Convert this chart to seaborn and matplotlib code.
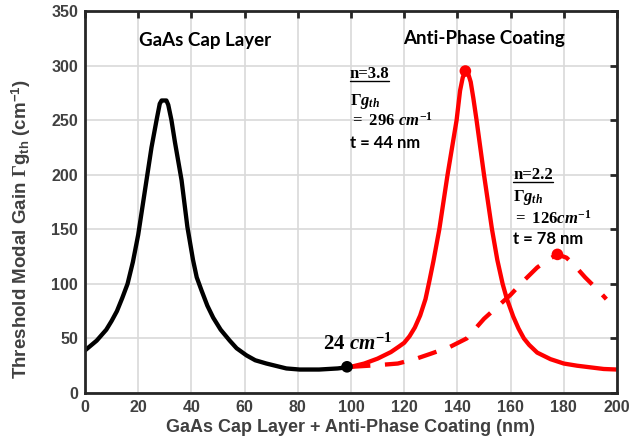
import numpy as np
import pandas as pd
import matplotlib
matplotlib.use("Agg")
import matplotlib.pyplot as plt
import seaborn as sns
from matplotlib.lines import Line2D

# ---- data ----
cap_x = [0, 4.4, 8, 10, 12, 14, 16, 18, 20, 22.5, 25, 26.9, 28.1, 28.8, 30.6,
         31.3, 32.5, 33.8, 36.3, 38.5, 40.6, 42, 43.8, 46, 48.2, 51, 54.4, 57,
         60.7, 64, 68.2, 75.7, 80.7, 88, 95, 100]
cap_y = [39, 48, 58, 66, 75, 87, 100, 120, 145, 185, 225, 250, 265, 268, 268,
         264, 250, 230, 195, 152, 122, 106, 94, 80, 69, 58, 48, 41,
         34.5, 30, 27, 22.5, 21.5, 21.5, 22.5, 24]

n38_x = [100, 105, 110, 115, 118, 120, 122, 124, 126, 128, 129.5, 131, 133.2,
         136.3, 139.7, 141, 142, 143, 144, 145, 146, 147.2, 150, 153, 155, 157,
         158.5, 161, 163, 165, 167, 170, 175, 180, 185, 190, 195, 200]
n38_y = [24, 27, 31.5, 37.5, 42.5, 46, 52, 60, 71, 86, 103, 121, 150,
         200, 250, 277, 289, 295, 293, 285, 270, 250, 200, 150, 122, 100,
         87, 70, 59, 50, 44, 37, 31, 27, 25, 23.5, 22, 21.5]

n22_x = [100, 110, 117.6, 124, 130, 137, 143.5, 150, 155, 160, 165, 170, 174,
         177.6, 181, 183.8, 188, 193.6, 196]
n22_y = [24, 25.5, 27, 31, 36, 42, 50, 68, 79, 90, 103, 115, 122,
         127, 124, 117.5, 106, 92.4, 86]

dot_x = [98.5, 143, 177.6]
dot_y = [24, 295, 127]
dot_c = ["black", "red", "red"]

x_ticks = list(range(0, 201, 20))
y_ticks = list(range(0, 351, 50))

# ---- style ----
sns.set_theme(style="white")
plt.rcParams["font.family"] = ["Liberation Sans", "DejaVu Sans"]
plt.rcParams["mathtext.fontset"] = "custom"
plt.rcParams["mathtext.rm"] = "Liberation Serif:bold"
plt.rcParams["mathtext.it"] = "Liberation Serif:italic:bold"
plt.rcParams["mathtext.bf"] = "Liberation Serif:bold"
plt.rcParams["mathtext.sf"] = "Liberation Sans:bold"

fig = plt.figure(figsize=(6.37, 4.46), dpi=100)
ax = fig.add_axes([85 / 637, 1 - 393 / 446, 532 / 637, 382 / 446])

lw = 3.1
line_kw = dict(solid_joinstyle="round", solid_capstyle="round")
sns.lineplot(x=cap_x, y=cap_y, ax=ax, color="black", lw=lw, sort=False, **line_kw)
sns.lineplot(x=n38_x, y=n38_y, ax=ax, color="red", lw=lw, sort=False, **line_kw)
sns.lineplot(x=n22_x, y=n22_y, ax=ax, color="red", lw=lw, sort=False,
             linestyle=(0, (4.5, 3.4)))
for xx, yy, cc in zip(dot_x, dot_y, dot_c):
    ax.scatter([xx], [yy], s=70, color=cc, zorder=5, edgecolor="none")

ax.set_xlim(0, 200)
ax.set_ylim(0, 350)
ax.set_xticks(x_ticks)
ax.set_yticks(y_ticks)
ax.grid(True, color="#d9d9d9", lw=1.2)
ax.set_axisbelow(True)
for s in ax.spines.values():
    s.set_color("#262626")
    s.set_linewidth(2.0)
ax.tick_params(direction="in", length=5, width=2.0, top=True, right=True,
               colors="#262626", labelcolor="#404040", pad=5)
for lab in ax.get_xticklabels() + ax.get_yticklabels():
    lab.set_fontweight("bold")
    lab.set_fontsize(11.5)

ax.set_xlabel("GaAs Cap Layer + Anti-Phase Coating (nm)", fontsize=13,
              fontweight="bold", color="#404040", labelpad=3)
ax.set_ylabel(r"Threshold Modal Gain $\mathrm{\Gamma}$g$_{\mathsf{th}}$ (cm$^{\mathsf{-1}}$)",
              fontsize=13.5, fontweight="bold", color="#404040")
ax.yaxis.set_label_coords(-0.098, 0.43)

ttl = dict(family=["Lato", "DejaVu Sans"], fontweight="bold", fontsize=13.5,
           color="black", ha="center", va="center")
ax.text(45, 323, "GaAs Cap Layer", **ttl)
ax.text(150, 325, "Anti-Phase Coating", **ttl)

ser = dict(fontsize=12, color="black", ha="left", va="center")
sans = dict(family=["Lato", "DejaVu Sans"], fontweight="bold", fontsize=12,
            color="black", ha="left", va="center")

def label_block(x0, ys, nstr, gstr, tstr):
    t1 = ax.text(x0, ys[0], nstr, family="Liberation Serif", fontweight="bold", **ser)
    ax.text(x0, ys[1], r"$\Gamma g_{th}$", **ser)
    ax.text(x0, ys[2], gstr, **ser)
    ax.text(x0, ys[3], tstr, **sans)
    return t1

u1 = label_block(99.5, [292, 267, 250, 229], "n=3.8", r"$=\ 296\ cm^{-1}$", "t = 44 nm")
u2 = label_block(161, [200, 179, 161, 141], "n=2.2", r"$=\ 126cm^{-1}$", "t = 78 nm")

ax.text(102.5, 46, r"$24\ cm^{-1}$", fontsize=15, color="black",
        ha="center", va="center")

fig.canvas.draw()
r = fig.canvas.get_renderer()
for t in (u1, u2):
    bb = t.get_window_extent(r)
    yline = bb.y0 + 1
    fig.add_artist(Line2D([bb.x0 / fig.bbox.width, bb.x1 / fig.bbox.width],
                          [yline / fig.bbox.height, yline / fig.bbox.height],
                          color="black", lw=1.0))

fig.savefig("out.png", dpi=100)
